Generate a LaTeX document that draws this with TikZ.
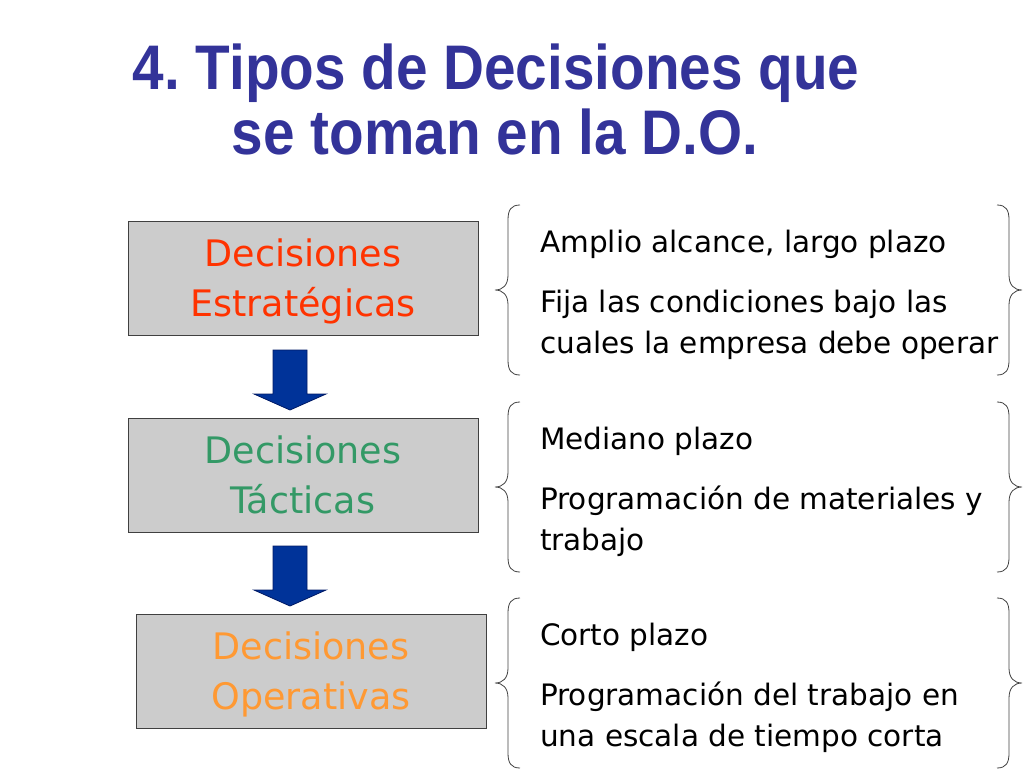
\documentclass[tikz,border=0pt]{standalone}
\usepackage{fontspec}
\setmainfont{DejaVu Sans}
\newfontfamily\titlefont{Liberation Sans}
\usepackage{graphicx}
\usetikzlibrary{calc,positioning}
\frenchspacing
\definecolor{titleblue}{HTML}{333399}
\definecolor{boxgray}{HTML}{CCCCCC}
\definecolor{boxline}{HTML}{404040}
\definecolor{estrred}{HTML}{FF3300}
\definecolor{tactgreen}{HTML}{339966}
\definecolor{operorange}{HTML}{FF9933}
\definecolor{arrowblue}{HTML}{003399}
\definecolor{arrowline}{HTML}{001A66}

\begin{document}
\begin{tikzpicture}[x=1pt,y=-1pt,
  box/.style={draw=boxline, fill=boxgray, line width=0.8pt, minimum width=350pt, minimum height=114pt, inner sep=0pt, text height=76pt, text depth=0pt, align=center, font=\fontsize{36.5}{50}\selectfont},
  item/.style={anchor=base west, align=left, inner sep=0pt, font=\fontsize{29.5}{41}\selectfont},
  brc/.style={draw=black!75, line width=0.8pt},
  blk/.style={draw=arrowline, fill=arrowblue, line width=0.8pt}]
\useasboundingbox (0,0) rectangle (1024,768);
\tikzstyle{ttl}=[anchor=base, inner sep=0pt, text=titleblue, font=\titlefont\bfseries\fontsize{63}{65}\selectfont]
\node[ttl] (ttl1) at (496,89) {\scalebox{0.9}[1]{4. Tipos de Decisiones que}};
\node[ttl] (ttl2) at (495,154) {\scalebox{0.9}[1]{se toman en la D.O.}};
\node[box, text=estrred] (estr) at (303,278) {Decisiones\\Estratégicas};
\node[box, text=tactgreen] (tact) at (303,475) {Decisiones\\Tácticas};
\node[box, text=operorange] (oper) at (311,671) {Decisiones\\Operativas};
% flechas entre niveles
\foreach \t in {350,546}{\draw[blk] (273,\t) -- (307,\t) -- (307,\t+44) -- (326,\t+44) -- (290,\t+60) -- (254,\t+44) -- (273,\t+44) -- cycle;}
% llaves y textos
\foreach \m/\n/\a/\b in {290/1/{Amplio alcance, largo plazo}/{Fija las condiciones bajo las\\cuales la empresa debe operar},
  487/2/{Mediano plazo}/{Programación de materiales y\\trabajo},
  683/3/{Corto plazo}/{Programación del trabajo en\\una escala de tiempo corta}}{
  \draw[brc] (520,\m-85) .. controls (511,\m-85) and (508,\m-80) .. (508,\m-70) -- (508,\m-15) .. controls (508,\m-5) and (503,\m) .. (495,\m) .. controls (503,\m) and (508,\m+5) .. (508,\m+15) -- (508,\m+70) .. controls (508,\m+80) and (511,\m+85) .. (520,\m+85);
  \draw[brc] (997,\m-85) .. controls (1006,\m-85) and (1009,\m-80) .. (1009,\m-70) -- (1009,\m-15) .. controls (1009,\m-5) and (1014,\m) .. (1022,\m) .. controls (1014,\m) and (1009,\m+5) .. (1009,\m+15) -- (1009,\m+70) .. controls (1009,\m+80) and (1006,\m+85) .. (997,\m+85);
  \node[item] (itemA\n) at (540,\m-38) {\a};
  \node[item] (itemB\n) at (540,\m+63) {\b};
}
\end{tikzpicture}
\end{document}
